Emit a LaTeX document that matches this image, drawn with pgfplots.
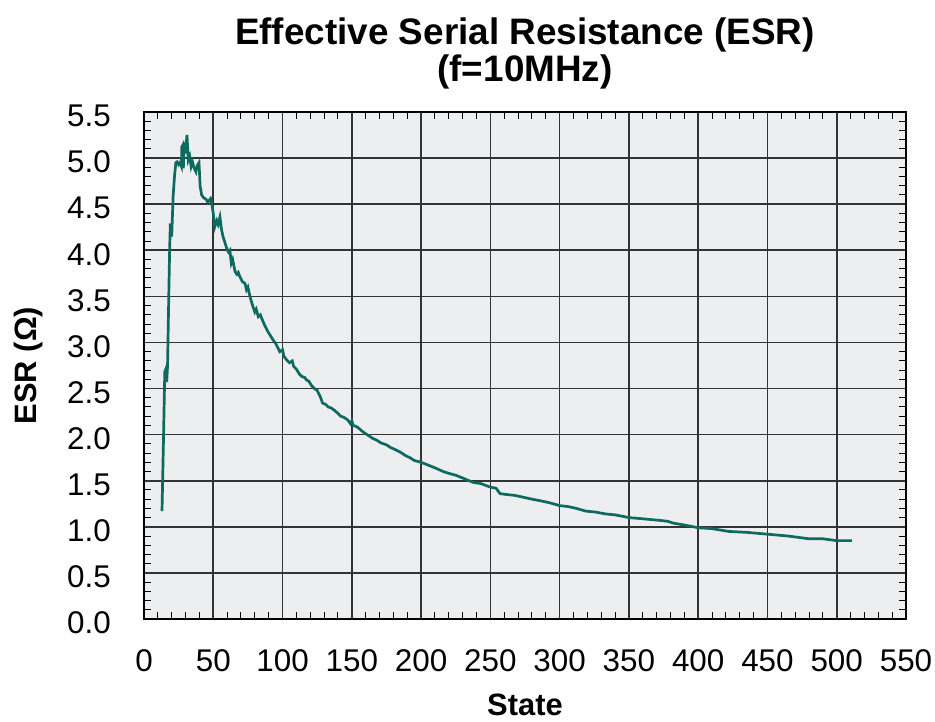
\documentclass[border=0pt]{standalone}
\usepackage{pgfplots}
\pgfplotsset{compat=1.18}
\usepackage{fontspec}
\setmainfont{Liberation Sans}
\definecolor{bgc}{RGB}{236,238,240}
\definecolor{esrline}{RGB}{14,106,94}
\begin{document}
\begin{tikzpicture}
\begin{axis}[
  scale only axis, width=762bp, height=507bp,
  xmin=0, xmax=550, ymin=0, ymax=5.5,
  xtick distance=50, ytick distance=0.5,
  minor x tick num=4, minor y tick num=4,
  tick align=inside,
  major tick length=0pt, minor tick length=7bp,
  grid=major,
  major grid style={black!80, line width=1.7bp},
  axis line style={black, line width=1.7bp},
  axis background/.style={fill=bgc},
  tick style={black, line width=1bp},
  /pgf/number format/assume math mode=true,
  tick label style={font=\fontsize{31.5}{31.5}\selectfont, inner sep=0pt},
  xticklabel shift=30bp,
  yticklabel shift=33bp,
  yticklabel style={yshift=-4bp, /pgf/number format/fixed, /pgf/number format/fixed zerofill, /pgf/number format/precision=1},
  title={Effective Serial Resistance (ESR)\\(f=10MHz)},
  title style={at={(axis description cs:0.5,1)}, anchor=south, yshift=17bp, inner sep=0pt, align=center, font=\fontsize{37}{37}\selectfont\bfseries},
  xlabel={State},
  xlabel style={at={(axis description cs:0.5,0)}, anchor=north, yshift=-75bp, inner sep=0pt, font=\fontsize{31}{31}\selectfont\bfseries},
  ylabel={ESR (Ω)},
  ylabel style={at={(axis description cs:-0.132,0.5)}, anchor=south, inner sep=0pt, font=\fontsize{31}{31}\selectfont\bfseries},
]
\addplot[color=esrline, line width=2.7bp, no markers] coordinates {
(13,1.17) (14,1.9) (15,2.68) (16,2.72) (16.4,2.57) (17,2.75) (18,3.6) (18.5,4.0) (19,4.29) (20,4.15) (21,4.58) (22,4.8) (23,4.95)
(24,4.96) (25,4.93) (26,4.95) (27,4.91) (27.3,5.12) (28,5.14) (28.4,4.89) (29,5.17) (30,5.05) (31,5.25) (32,4.98) (33,5.02)
(34,4.91) (35,4.96) (36,4.9) (37.5,4.85) (38.5,4.92) (39.7,4.95) (40.5,4.7) (41.6,4.6) (43,4.57) (45,4.55) (46,4.52) (48,4.56)
(49,4.5) (50,4.4) (51,4.25) (52.5,4.32) (53.5,4.28) (54.8,4.36) (56,4.22) (57,4.15) (58.5,4.08) (59.7,4.02) (61,3.98) (62,4.0)
(63,3.86) (64,3.9) (65.7,3.77) (67,3.74) (68,3.76) (69.3,3.71) (71,3.66) (72.9,3.64) (74,3.57) (75,3.6) (76.5,3.5) (78,3.42)
(80,3.33) (81,3.36) (82.5,3.28) (84,3.3) (85,3.26) (87,3.19) (89,3.13) (91,3.08) (93,3.03) (95,2.99) (98,2.9) (100,2.92)
(101,2.85) (103,2.81) (105,2.78) (107,2.8) (108,2.74) (110,2.71) (112,2.66) (114,2.63) (116,2.62) (117.5,2.59) (119,2.58)
(121,2.53) (123,2.5) (125,2.48) (127,2.42) (129,2.34) (131,2.33) (133,2.3) (135,2.29) (137,2.27) (140,2.23) (142,2.2)
(144,2.19) (147,2.16) (149,2.12) (150,2.15) (151,2.1) (153,2.09) (155,2.07) (158,2.03) (161,2.0) (165,1.96) (168,1.94)
(171,1.91) (175,1.89) (178,1.86) (181,1.84) (185,1.81) (189,1.77) (192,1.75) (195,1.72) (200,1.70) (205,1.67) (210,1.64)
(216,1.60) (220,1.58) (225,1.56) (230,1.53) (233,1.51) (238,1.48) (243,1.47) (250,1.43) (254,1.42) (257,1.36) (262,1.35)
(268,1.34) (274,1.32) (280,1.30) (287,1.28) (293,1.26) (300,1.23) (306,1.22) (312,1.20) (319,1.17) (326,1.16) (333,1.14)
(340,1.13) (350,1.10) (358,1.09) (365,1.08) (372,1.07) (378,1.06) (382,1.04) (390,1.02) (400,0.99) (410,0.98) (422,0.95)
(435,0.94) (450,0.92) (465,0.90) (480,0.87) (490,0.87) (500,0.85) (511,0.85)
};
\end{axis}
\pgfresetboundingbox
\path[use as bounding box] (current axis.south west) ++(-144bp,-103bp) rectangle ++(935bp,722bp);
\end{tikzpicture}
\end{document}
